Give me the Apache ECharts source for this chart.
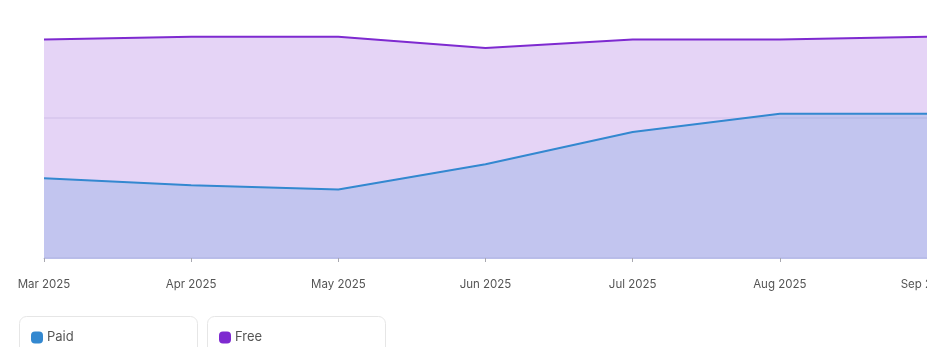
<!DOCTYPE html>
<html>
<head>
<meta charset="utf-8">
<script src="https://cdn.jsdelivr.net/npm/echarts@6/dist/echarts.min.js"></script>
<style>
  html, body { margin: 0; padding: 0; background: #fff; }
  #chart { width: 927px; height: 347px; }
</style>
</head>
<body>
<div id="chart"></div>
<script>
// Monthly users split by plan
var months = ['Mar 2025', 'Apr 2025', 'May 2025', 'Jun 2025', 'Jul 2025', 'Aug 2025', 'Sep 2025'];
var paidUsers = [57, 52, 49, 67, 90, 103, 103];
var freeUsers = [156, 158, 158, 150, 156, 156, 158];

var PAID = '#3388d0';
var FREE = '#7e2ad0';
var FONT = 'Inter, "Noto Sans", sans-serif';

// rounded square legend marker
var marker = 'path://M4,0 H8 A4,4 0 0 1 12,4 V8 A4,4 0 0 1 8,12 H4 A4,4 0 0 1 0,8 V4 A4,4 0 0 1 4,0 Z';

var chart = echarts.init(document.getElementById('chart'), null, { renderer: 'canvas' });

function legendAt(name, left) {
  return {
    data: [name],
    left: left,
    top: 331,
    icon: marker,
    itemWidth: 12,
    itemHeight: 12,
    itemGap: 0,
    padding: 0,
    selectedMode: false,
    textStyle: { fontFamily: FONT, fontSize: 13, color: '#555', padding: [2, 0, 0, -1] }
  };
}

chart.setOption({
  animation: false,
  grid: { left: 44, right: 0, top: -22, bottom: 89, containLabel: false, outerBoundsMode: 'none' },
  legend: [legendAt('Paid', 31), legendAt('Free', 219)],
  graphic: [
    { type: 'rect', shape: { x: 19.5, y: 316.5, width: 178, height: 60, r: 7 },
      style: { fill: '#fff', stroke: '#e6e6e6', lineWidth: 1 }, z: -10, silent: true },
    { type: 'rect', shape: { x: 207.5, y: 316.5, width: 178, height: 60, r: 7 },
      style: { fill: '#fff', stroke: '#e6e6e6', lineWidth: 1 }, z: -10, silent: true }
  ],
  xAxis: {
    type: 'category',
    data: months,
    boundaryGap: false,
    z: 5,
    axisLine: { lineStyle: { color: '#babee9', width: 1 } },
    axisTick: { show: true, length: 4, lineStyle: { color: '#a8a8b0' } },
    axisLabel: { fontFamily: FONT, fontSize: 11.5, color: '#555', margin: 21 },
    splitLine: { show: false }
  },
  yAxis: {
    type: 'value',
    min: 0,
    max: 200,
    interval: 100,
    axisLine: { show: false },
    axisTick: { show: false },
    axisLabel: { show: false },
    splitLine: { show: true, lineStyle: { color: '#ececf3', width: 1.5 } }
  },
  series: [
    {
      name: 'Free',
      type: 'line',
      data: freeUsers,
      showSymbol: false,
      symbol: 'none',
      color: FREE,
      lineStyle: { color: FREE, width: 2 },
      areaStyle: { color: FREE, opacity: 0.2 }
    },
    {
      name: 'Paid',
      type: 'line',
      data: paidUsers,
      showSymbol: false,
      symbol: 'none',
      color: PAID,
      lineStyle: { color: PAID, width: 2 },
      areaStyle: { color: PAID, opacity: 0.2 }
    }
  ]
});
</script>
</body>
</html>
